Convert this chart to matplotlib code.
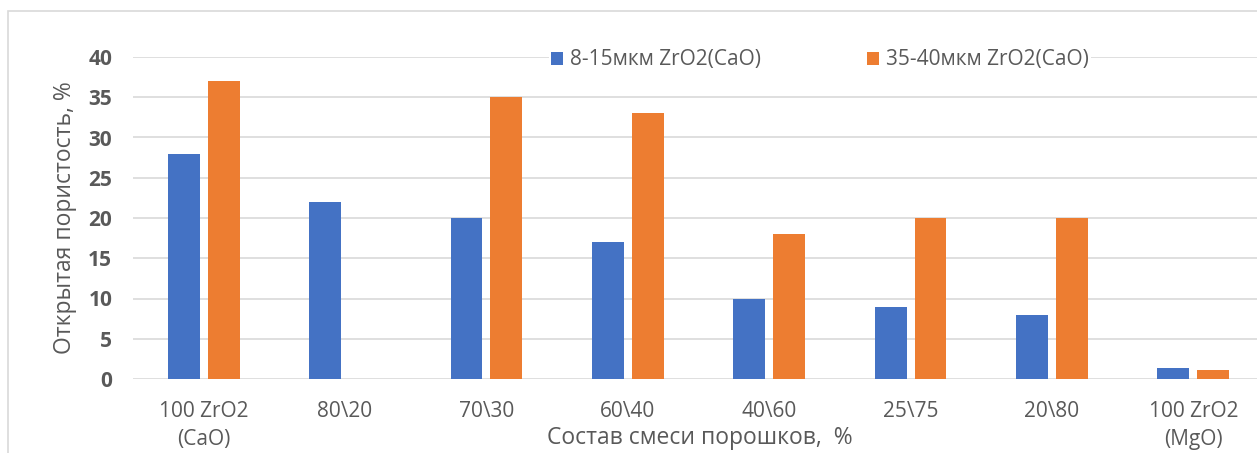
import matplotlib
matplotlib.use("Agg")
import matplotlib.pyplot as plt
from matplotlib.patches import Rectangle
import numpy as np

plt.rcParams['font.family'] = ['Open Sans', 'DejaVu Sans']

categories = ["100 ZrO2\n(CaO)", "80\\20", "70\\30", "60\\40", "40\\60", "25\\75", "20\\80", "100 ZrO2\n(MgO)"]
fine = [28, 22, 20, 17, 10, 9, 8, 1.4]
coarse = [37, 0, 35, 33, 18, 20, 20, 1.1]
series_names = ["8-15мкм ZrO2(CaO)", "35-40мкм ZrO2(CaO)"]
y_ticks = [0, 5, 10, 15, 20, 25, 30, 35, 40]

BLUE = "#4472C4"
ORANGE = "#ED7D31"
GRAY = "#595959"
GRID = "#D9D9D9"

W, H = 1257, 453
fig = plt.figure(figsize=(W / 100, H / 100), dpi=100)
fig.patch.set_facecolor("white")

# outer chart frame (runs past the right and bottom edges)
fig.patches.append(Rectangle((8 / W, -0.05), 1.1, (H - 11) / H + 0.05,
                             transform=fig.transFigure, fill=False,
                             edgecolor=GRID, linewidth=1.2))

x0, x1 = 133, 1264
y0, y1 = 379, 57
ax = fig.add_axes([x0 / W, (H - y0) / H, (x1 - x0) / W, (y0 - y1) / H])
ax.set_facecolor("none")

x = np.arange(len(categories))
bw = 0.226
gap = 0.056
off = (bw + gap) / 2
ax.bar(x - off, fine, width=bw, color=BLUE, label=series_names[0], zorder=3)
ax.bar(x + off, coarse, width=bw, color=ORANGE, label=series_names[1], zorder=3)

ax.set_xlim(-0.5, len(categories) - 0.5)
ax.set_ylim(0, 40)
ax.set_yticks(y_ticks)
ax.set_yticklabels([str(t) for t in y_ticks], fontsize=15, fontweight="bold", color=GRAY)
ax.set_xticks(x)
ax.set_xticklabels(categories, fontsize=15, color=GRAY, linespacing=1.45)
ax.tick_params(axis="both", length=0)
ax.tick_params(axis="y", pad=15)
ax.tick_params(axis="x", pad=16)

ax.grid(axis="y", color=GRID, linewidth=1.2, zorder=0)
for s in ax.spines.values():
    s.set_visible(False)

ax.set_ylabel("Открытая пористость, %", fontsize=16.5, color=GRAY)
ax.yaxis.set_label_coords((77 - x0) / (x1 - x0), 0.5)
fig.text(700 / W, 1 - 438 / H, "Состав смеси порошков,  %", fontsize=16.5,
         color=GRAY, ha="center", va="center")

leg = ax.legend(loc="center", bbox_to_anchor=((820 - x0) / (x1 - x0), 1.0 - 3 / (y0 - y1)),
                ncol=2, frameon=True, fontsize=15, handlelength=0.58,
                handleheight=0.58, handletextpad=0.33, columnspacing=5.1,
                borderpad=0.1, borderaxespad=0)
leg.get_frame().set_facecolor("white")
leg.get_frame().set_edgecolor("none")
leg.get_frame().set_alpha(1)
for t in leg.get_texts():
    t.set_color(GRAY)

fig.savefig("out.png", dpi=100)
